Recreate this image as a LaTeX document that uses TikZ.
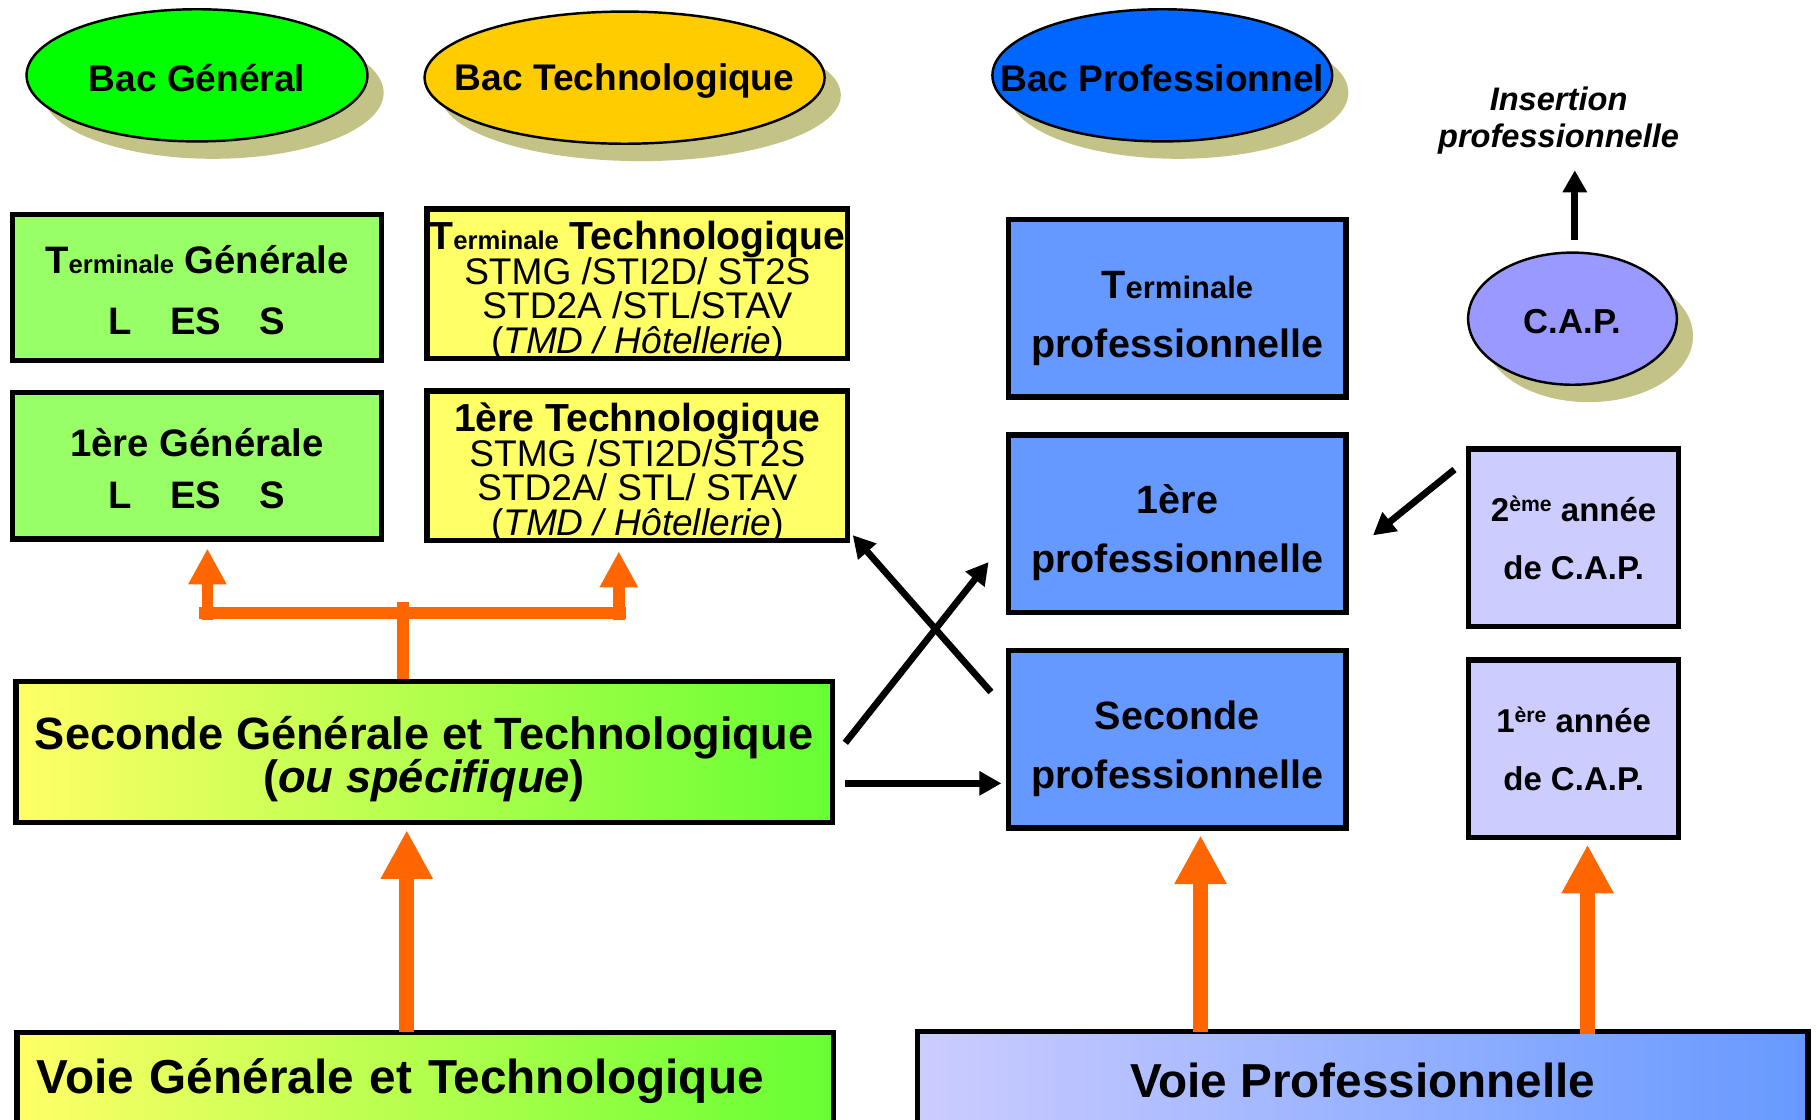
\documentclass[tikz,border=0pt]{standalone}
\usepackage{fontspec}
\setmainfont{Liberation Sans}
\usetikzlibrary{arrows.meta,shapes.geometric,shadows,calc}

\definecolor{vertbac}{HTML}{00FF00}
\definecolor{orbac}{HTML}{FFCC00}
\definecolor{bleubac}{HTML}{0066FF}
\definecolor{violetcap}{HTML}{9999FF}
\definecolor{vertclair}{HTML}{99FF66}
\definecolor{jaunetech}{HTML}{FFFF66}
\definecolor{vertvif}{HTML}{66FF33}
\definecolor{bleupro}{HTML}{6699FF}
\definecolor{lavande}{HTML}{CCCCFF}
\definecolor{orangef}{HTML}{FF6600}
\definecolor{ombre}{HTML}{C3C388}

\newcommand{\taille}[2]{\fontsize{#1}{#2}\selectfont\lineskiplimit=-20pt\relax}
\newcommand{\expo}[1]{\raisebox{0.6ex}{\taille{5.2}{6}#1}}

\begin{document}
\begin{tikzpicture}[x=0.01cm,y=-0.01cm,
    bac/.style={ellipse,draw,line width=0.6pt,inner sep=0pt,
      drop shadow={shadow xshift=0.14cm,shadow yshift=-0.15cm,fill=ombre,opacity=1}},
    bactxt/.style={font=\bfseries\taille{9.1}{10},inner sep=0pt,yshift=-0.025cm},
    boite/.style={draw,line width=1.3pt,inner sep=0pt,align=center},
    gbox/.style={boite,fill=vertclair,minimum width=3.18cm,minimum height=1.26cm,text depth=0pt},
    ybox/.style={boite,fill=jaunetech,minimum width=3.63cm,minimum height=1.29cm,font=\taille{9.1}{8.5},
      text depth=0pt,text height=34.2pt},
    pbox/.style={boite,fill=bleupro,minimum width=2.91cm,minimum height=1.53cm,font=\bfseries\taille{9.7}{14.5},
      text depth=0pt,text height=24pt},
    cbox/.style={boite,fill=lavande,minimum width=1.81cm,minimum height=1.53cm,font=\bfseries\taille{8.1}{14.2}},
    fleche/.style={line width=1.65pt,-{Triangle[width=0.2cm,length=0.19cm]}},
    grosse/.style={draw=orangef,line width=0.13cm,-{Triangle[width=0.42cm,length=0.42cm]}},
    petite/.style={draw=orangef,line width=0.1cm,-{Triangle[width=0.31cm,length=0.31cm]}}]

  \useasboundingbox (0,0) rectangle (1568,966);
  \clip (0,0) rectangle (1568,966);

  % les bacs
  \node[bac,fill=vertbac,minimum width=2.94cm,minimum height=1.14cm,
    label={[bactxt]center:Bac Général}] (bacg) at (170,65) {};
  \node[bac,fill=orbac,minimum width=3.45cm,minimum height=1.14cm,
    label={[bactxt]center:Bac Technologique}] (bact) at (539,67) {};
  \node[bac,fill=bleubac,minimum width=2.93cm,minimum height=1.14cm,
    label={[bactxt]center:Bac Professionnel}] (bacp) at (1003,65) {};
  \node[bac,fill=violetcap,minimum width=1.8cm,minimum height=1.14cm,
    label={[bactxt,font=\bfseries\taille{8.5}{10}]center:C.A.P.}] (cap) at (1357,275) {};
  \node[font=\bfseries\itshape\taille{8}{9.1},align=center,inner sep=0pt] (insert) at (1345,104) {Insertion\\professionnelle};

  % voie generale et technologique
  \node[gbox,text height=22.9pt,font=\bfseries\taille{9.4}{14.8}] (termg) at (170,248) {T{\taille{6.3}{7}erminale} Générale\\L\quad ES\quad S};
  \node[gbox,text height=21pt,font=\bfseries\taille{9.4}{12.8}] (premg) at (170,402) {1ère Générale\\L\quad ES\quad S};
  \node[ybox] (termt) at (550,245) {\textbf{\taille{9.6}{8.5}T{\taille{6.3}{7}erminale} Technologique}\\STMG /STI2D/ ST2S\\STD2A /STL/STAV\\(\textit{TMD / Hôtellerie})};
  \node[ybox] (premt) at (550,402) {\textbf{\taille{9.6}{8.5}1ère Technologique}\\STMG /STI2D/ST2S\\STD2A/ STL/ STAV\\(\textit{TMD / Hôtellerie})};
  \node[boite,left color=jaunetech,right color=vertvif,minimum width=7.04cm,minimum height=1.22cm,
    text depth=0pt,text height=19.6pt,font=\bfseries\taille{11.1}{10.4}] (sgt) at (366,649) {Seconde Générale et Technologique\\(\textit{ou spécifique})};
  \node[boite,left color=jaunetech,right color=vertvif,minimum width=7.04cm,minimum height=0.84cm,
    text width=6.7cm,align=left,font=\bfseries\taille{11.7}{13}] (vgt) at (367,933) {Voie Générale et Technologique};

  % voie professionnelle
  \node[pbox] (termp) at (1016,266) {T{\taille{7.6}{8}erminale}\\professionnelle};
  \node[pbox] (premp) at (1016,452) {1ère\\professionnelle};
  \node[pbox] (secp) at (1016,638) {Seconde\\professionnelle};
  \node[cbox] (cap2) at (1358,464) {2\expo{ème} année\\de C.A.P.};
  \node[cbox] (cap1) at (1358,646) {1\expo{ère} année\\de C.A.P.};
  \node[boite,left color=lavande,right color=bleupro,minimum width=7.68cm,minimum height=0.84cm,
    font=\bfseries\taille{11.7}{13}] (vp) at (1176,932) {Voie Professionnelle};

  % fleches orange
  \draw[grosse] ($(vgt.north)+(-16,2)$) -- ($(sgt.south)+(-15,4)$);
  \draw[grosse] ($(secp.south |- vp.north)+(20,3)$) -- ($(secp.south)+(20,4)$);
  \draw[grosse] ($(cap1.south |- vp.north)+(12,5)$) -- ($(cap1.south)+(12,4)$);

  \coordinate (brg) at (172,529);
  \coordinate (brd) at (540,529);
  \coordinate (pg) at (179,535);
  \coordinate (pt) at (534,535);
  \draw[orangef,line width=0.1cm] ($(sgt.north)+(-18,0)$) -- ++(0,-66);
  \draw[orangef,line width=0.1cm] (brg) -- (brd);
  \draw[petite] (pg) -- ($(pg |- premg.south)+(0,6)$);
  \draw[petite] (pt) -- ($(pt |- premt.south)+(0,7)$);

  % passerelles
  \draw[fleche] ($(sgt.east)+(9,-8)$) -- ($(premp.west)+(-15,33)$);
  \draw[fleche] ($(secp.north west)+(-13,38)$) -- ($(premt.south east)+(2,-7)$);
  \draw[fleche] ($(sgt.east)+(9,27)$) -- ($(secp.west)+(-4,38)$);
  \draw[fleche] ($(cap2.north west)+(-10,20)$) -- ($(premp.east)+(21,10)$);
  \draw[fleche] ($(cap.north)+(2,-10)$) -- ($(cap.north)+(2,-70)$);

\end{tikzpicture}
\end{document}
